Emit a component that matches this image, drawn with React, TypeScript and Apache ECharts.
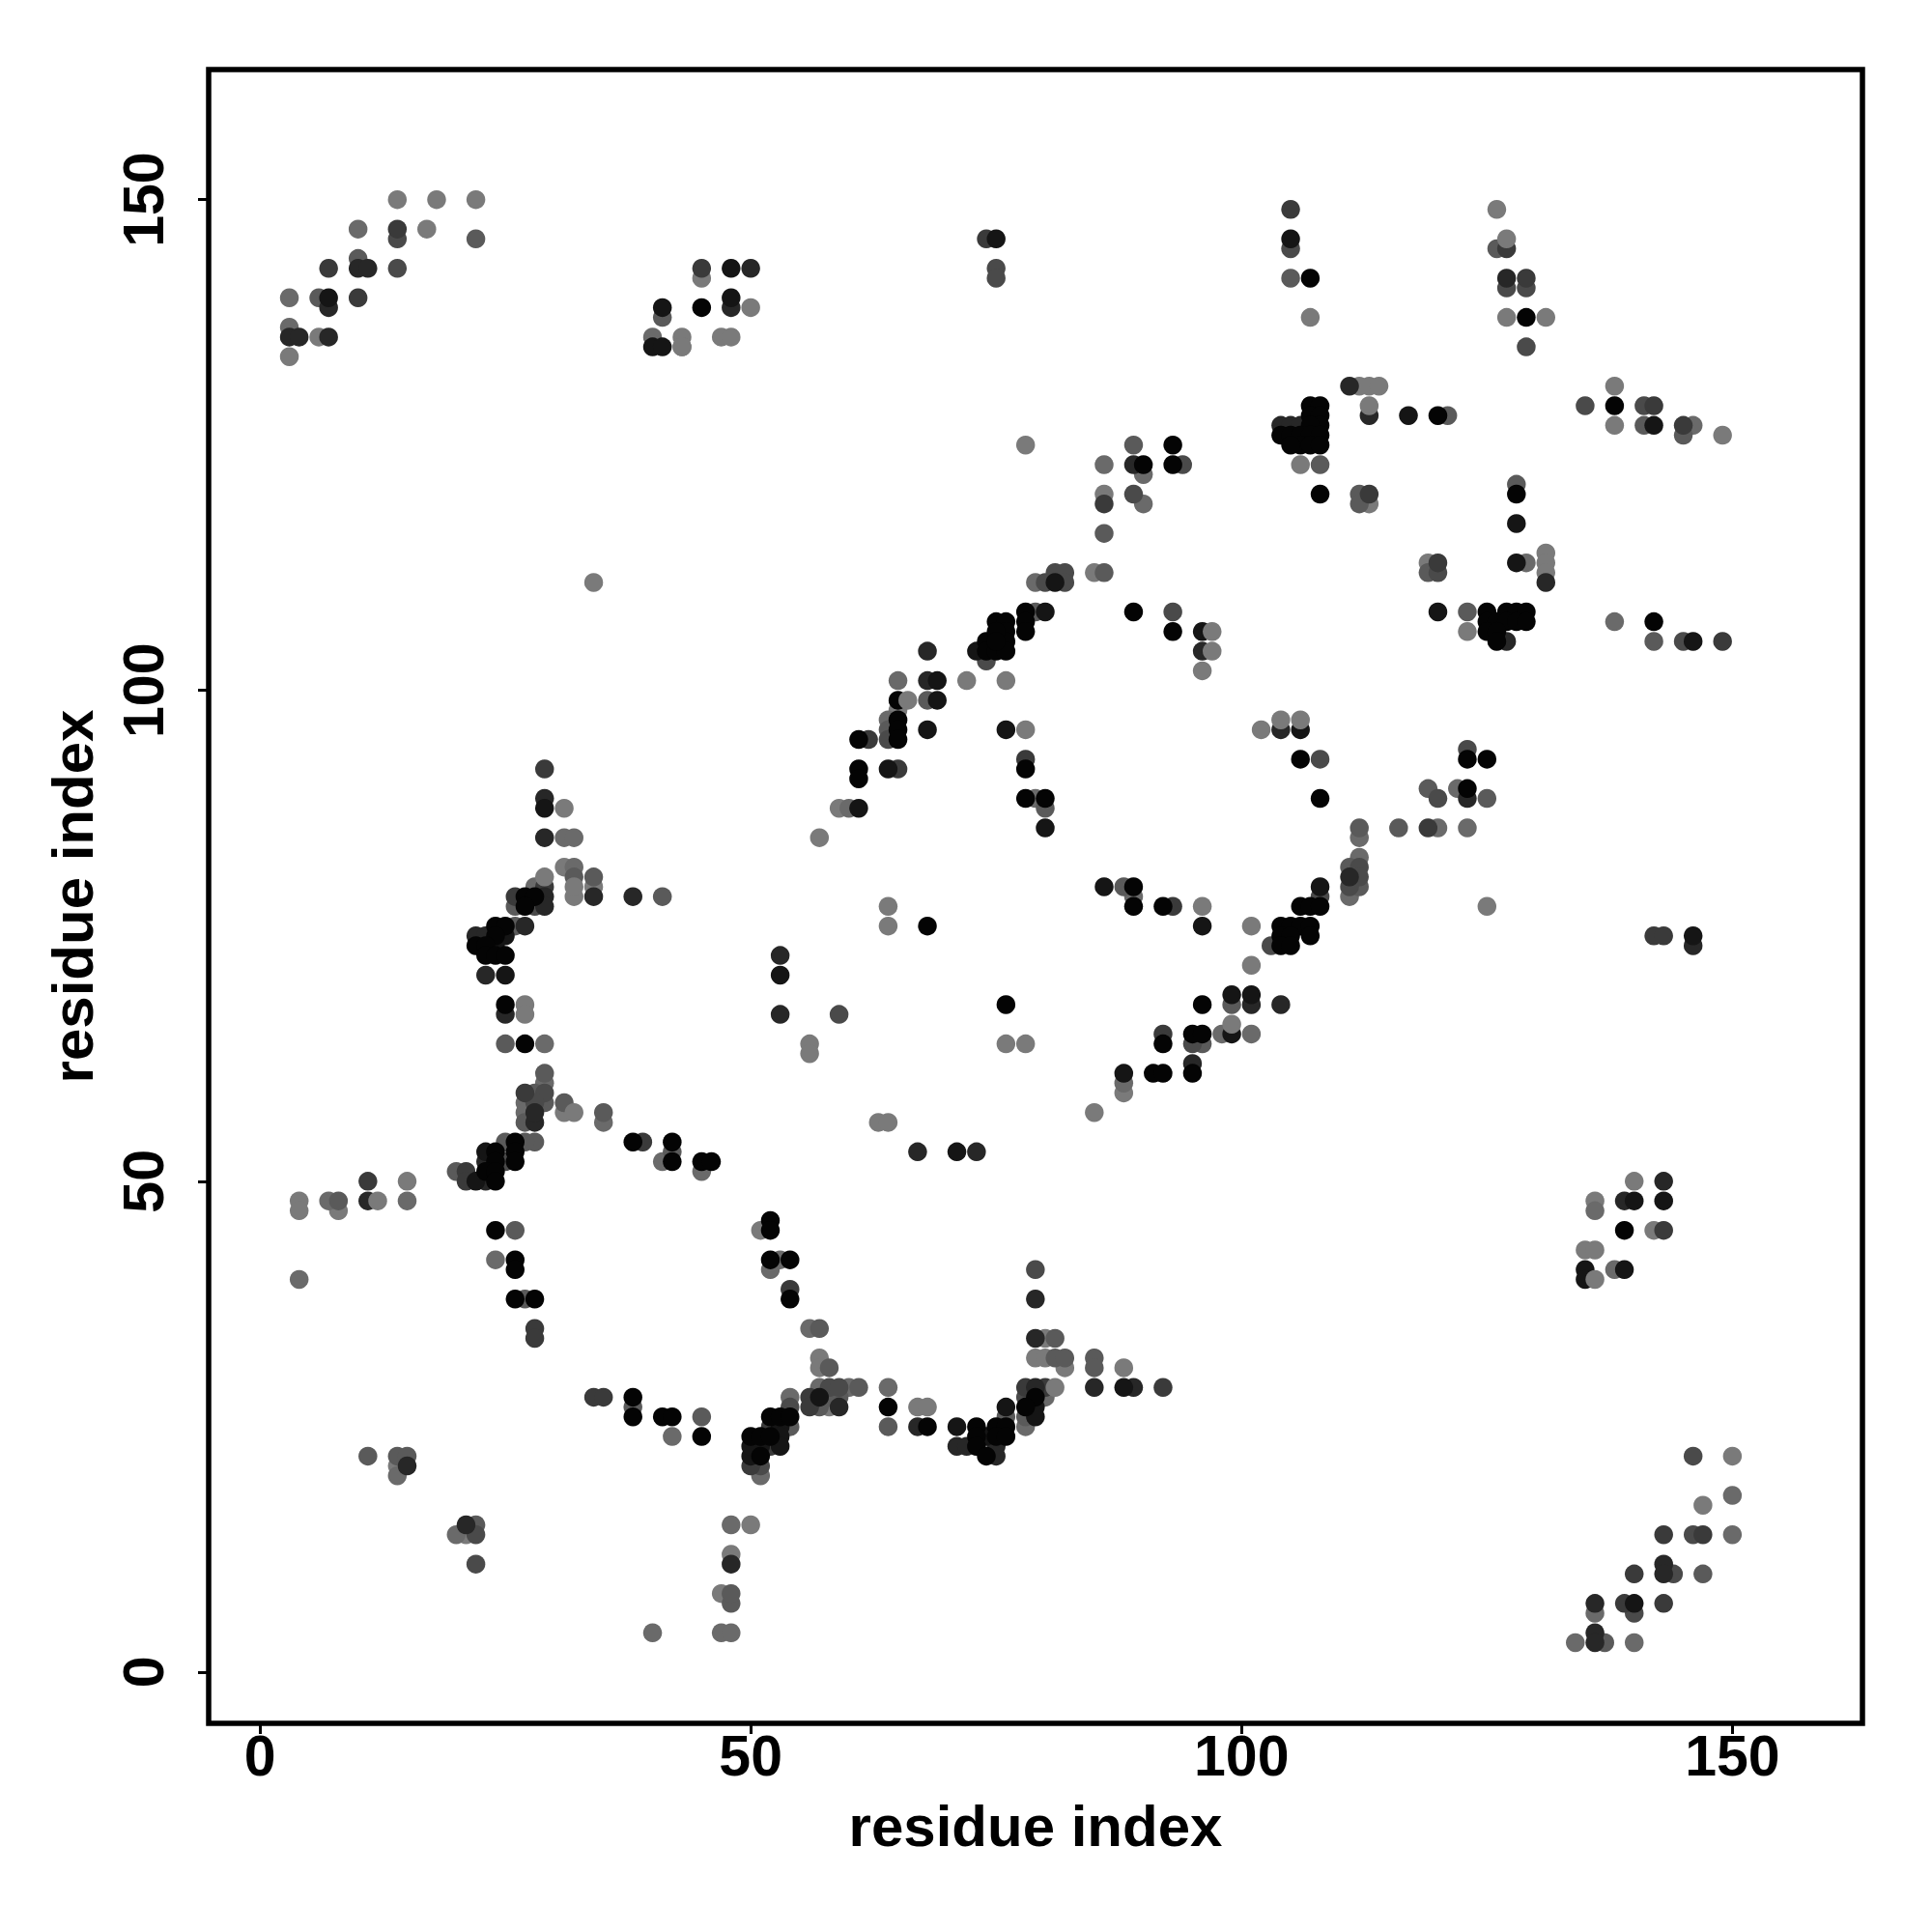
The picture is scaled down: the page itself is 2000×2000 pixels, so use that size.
import React, { useEffect, useRef } from "react";
import * as echarts from "echarts";

const tickValues = [0, 50, 100, 150];
const axisTitle = "residue index";

const shade0 = [[45,139],[93,125],[90,123],[93,123],[78,108],[78,107],[78,106],[75,107],[76,107],[76,106],[93,106],[89,108],[74,105],[76,105],[74,104],[75,104],[76,104],[75,106],[75,105],[65,97],[65,96],[65,95],[61,95],[61,92],[61,91],[78,92],[106,93],[108,89],[78,89],[80,89],[89,80],[89,78],[92,78],[68,76],[65,99],[76,68],[96,68],[95,65],[96,65],[92,64],[91,61],[92,61],[95,61],[104,76],[105,76],[106,76],[107,76],[104,75],[105,75],[107,75],[104,74],[105,74],[106,78],[107,78],[108,78],[107,142],[107,129],[108,129],[107,128],[108,128],[108,127],[107,127],[104,126],[105,126],[106,126],[107,126],[108,126],[106,125],[107,125],[108,125],[105,125],[108,120],[120,128],[129,138],[125,108],[127,108],[128,108],[129,108],[125,107],[126,107],[127,107],[128,107],[129,107],[142,107],[125,106],[126,106],[126,105],[123,93],[125,93],[123,90],[128,120],[138,129],[139,45],[24,76],[25,76],[24,75],[22,74],[23,74],[23,73],[24,73],[25,73],[27,79],[28,79],[27,78],[25,68],[27,64],[26,54],[26,53],[24,53],[26,52],[24,52],[23,51],[24,51],[24,50],[38,54],[42,54],[42,52],[45,52],[46,52],[24,45],[26,42],[26,41],[26,38],[28,38],[38,28],[38,26],[41,26],[42,26],[45,24],[52,46],[52,45],[52,42],[54,42],[54,38],[50,24],[51,24],[51,22],[52,26],[52,24],[53,26],[54,26],[64,27],[68,25],[73,25],[75,25],[76,25],[79,28],[78,27],[73,24],[75,24],[76,24],[73,23],[74,22]];
const shade1 = [[7,140],[48,143],[48,140],[41,139],[40,135],[41,135],[75,146],[105,146],[81,111],[80,108],[96,106],[73,104],[69,101],[68,96],[76,96],[64,92],[61,88],[80,86],[53,71],[86,80],[96,76],[99,69],[101,69],[99,65],[88,61],[71,53],[69,99],[106,96],[146,75],[143,48],[140,48],[135,41],[135,40],[139,41],[140,7],[117,128],[142,127],[128,117],[128,113],[120,108],[146,105],[29,88],[25,71],[24,74],[25,75],[76,27],[79,27],[79,26],[57,28],[53,25],[53,24],[53,23],[50,22],[51,23],[74,24],[71,25],[88,29],[50,23],[108,80],[23,53],[22,50]];
const shade2 = [[3,136],[4,136],[7,136],[10,143],[11,143],[7,139],[48,139],[50,143],[89,123],[68,104],[96,104],[68,101],[104,96],[104,68],[101,68],[53,73],[53,67],[67,53],[73,53],[95,62],[79,29],[79,34],[79,38],[111,131],[113,128],[104,127],[105,127],[106,127],[123,89],[111,81],[131,111],[127,105],[127,142],[146,74],[143,50],[139,48],[136,7],[143,11],[143,10],[136,4],[136,3],[11,48],[15,21],[21,15],[48,11],[59,27],[85,29],[89,29],[71,23],[72,23],[75,23],[75,22],[67,25],[29,85],[29,89],[29,79],[29,78],[34,79],[38,79],[23,71],[25,67],[22,75],[23,75],[27,76],[23,52],[23,50],[28,56],[28,57]];
const shade3 = [[14,147],[7,143],[10,140],[45,143],[74,146],[105,149],[86,119],[127,145],[129,142],[113,120],[120,113],[142,129],[145,127],[149,105],[62,95],[65,92],[78,93],[93,78],[92,65],[119,86],[142,75],[143,75],[143,14],[147,14],[140,10],[139,7],[143,7],[143,45],[29,92],[29,80],[26,79],[27,59],[39,54],[21,51],[21,50],[11,50],[34,28],[35,28],[28,35],[28,34],[56,28],[56,27],[92,29],[78,29],[80,29],[52,25],[52,23],[54,39],[50,21]];
const shade4 = [[14,146],[14,143],[75,143],[75,142],[105,145],[89,120],[94,123],[81,112],[82,112],[80,111],[82,111],[74,103],[93,108],[127,141],[129,141],[129,135],[135,129],[141,129],[145,105],[123,94],[108,93],[120,89],[120,112],[112,82],[112,81],[111,80],[108,79],[103,74],[64,95],[59,67],[146,22],[146,14],[144,10],[140,6],[79,41],[22,14],[22,11],[78,28],[54,27],[58,29],[59,29],[95,64],[28,78],[29,59],[28,58],[25,52],[51,21]];
const shade5 = [[10,144],[6,140],[22,146],[41,138],[105,142],[89,125],[86,116],[86,112],[79,108],[108,123],[112,120],[126,145],[112,119],[119,112],[123,108],[128,121],[145,126],[141,127],[142,105],[116,86],[119,90],[125,89],[112,86],[112,80],[111,82],[80,88],[68,99],[64,96],[88,80],[99,68],[96,64],[25,64],[29,61],[31,58],[35,57],[25,54],[28,54],[28,59],[27,56],[42,53],[41,79],[34,81],[32,81],[26,78],[26,76],[20,51],[8,48],[26,45],[27,38],[38,27],[45,26],[11,22],[14,22],[15,22],[22,15],[48,7],[48,8],[137,3],[147,10],[57,35],[58,31],[58,28],[59,28],[57,27],[61,29],[64,25],[76,26],[78,26],[81,34],[81,32],[82,32],[85,32],[85,31],[27,54],[29,58],[121,128],[54,25]];
const shade6 = [[10,147],[3,140],[3,137],[40,136],[86,123],[90,119],[90,122],[79,111],[79,89],[65,101],[64,97],[60,88],[89,79],[98,65],[101,65],[122,90],[120,86],[123,86],[112,85],[112,83],[111,79],[129,113],[138,107],[146,127],[29,64],[31,85],[32,85],[32,82],[28,80],[27,58],[27,57],[29,60],[35,56],[7,48],[4,40],[45,51],[136,47],[138,41],[134,3],[140,3],[136,6],[150,18],[150,14],[14,20],[20,14],[24,42],[42,24],[41,52],[48,15],[40,4],[47,4],[48,4],[15,48],[88,60],[56,35],[57,29],[54,28],[60,29],[64,29],[80,28],[78,25],[51,20],[52,41],[53,42]];
const shade7 = [[14,150],[18,150],[22,150],[17,147],[3,134],[6,136],[43,136],[43,135],[47,136],[48,136],[45,142],[34,111],[78,125],[86,120],[107,138],[85,112],[72,101],[76,101],[65,98],[78,96],[64,78],[64,76],[59,88],[57,85],[56,64],[56,63],[76,64],[78,64],[63,56],[64,56],[85,57],[88,59],[102,96],[96,78],[101,76],[101,72],[125,78],[112,131],[113,131],[114,131],[113,119],[119,113],[126,149],[127,138],[131,138],[138,131],[138,127],[149,126],[123,106],[131,114],[131,113],[131,112],[96,102],[27,68],[27,67],[31,88],[31,82],[32,79],[34,80],[31,57],[4,48],[4,47],[8,47],[15,50],[14,21],[21,14],[50,15],[48,12],[47,8],[150,22],[147,17],[136,48],[135,43],[136,43],[142,45],[140,50],[51,45],[57,32],[57,31],[79,32],[80,32],[80,34],[82,31],[88,31],[67,27],[68,27],[58,27]];
const lightOnTop = [[12,48],[50,139],[136,40],[29,81],[97,106],[97,104],[66,99],[81,29],[113,129],[127,146],[106,97],[104,97],[99,66],[32,80],[32,57],[106,123],[43,135]];

const layers: [number[][], string][] = [
  [shade7, "#7a7a7a"],
  [shade6, "#6a6a6a"],
  [shade5, "#5a5a5a"],
  [shade4, "#4a4a4a"],
  [shade3, "#3a3a3a"],
  [shade2, "#272727"],
  [shade1, "#151515"],
  [shade0, "#040404"],
  [lightOnTop, "#7a7a7a"],
];

export default function App() {
  const ref = useRef<HTMLDivElement>(null);
  useEffect(() => {
    const chart = echarts.init(ref.current!, undefined, { renderer: "svg" });
    const font = { fontFamily: "Liberation Sans", fontWeight: "bold" as const, fontSize: 59, color: "#000" };
    const axisCommon = {
      type: "value" as const,
      min: -5.22,
      max: 163.25,
      name: axisTitle,
      nameLocation: "middle" as const,
      nameTextStyle: { ...font, fontSize: 60 },
      splitLine: { show: false },
      axisLine: { show: false, onZero: false },
      axisTick: { show: true, length: 11, lineStyle: { color: "#000", width: 3 }, customValues: tickValues },
    };
    chart.setOption({
      animation: false,
      backgroundColor: "#fff",
      grid: { show: false, left: 216, top: 72, width: 1712, height: 1712 },
      graphic: [{
        type: "rect",
        silent: true,
        shape: { x: 216, y: 72, width: 1712, height: 1712 },
        style: { fill: "none", stroke: "#000", lineWidth: 5.5 },
      }],
      xAxis: { ...axisCommon, nameGap: 76, axisLabel: { ...font, margin: 4, customValues: tickValues, formatter: (v: number) => String(v) } },
      yAxis: { ...axisCommon, nameGap: 111, axisLabel: { ...font, margin: 38, rotate: 90, customValues: tickValues, formatter: (v: number) => String(v), align: "center", verticalAlign: "bottom" } },
      series: layers.map(([data, color]) => ({
        type: "scatter",
        data,
        symbol: "circle",
        symbolSize: 19.5,
        itemStyle: { color, opacity: 1 },
        silent: true,
      })),
    });
    return () => chart.dispose();
  }, []);
  return <div ref={ref} style={{ position: "absolute", left: 0, top: 0, width: 2000, height: 2000 }} />;
}
